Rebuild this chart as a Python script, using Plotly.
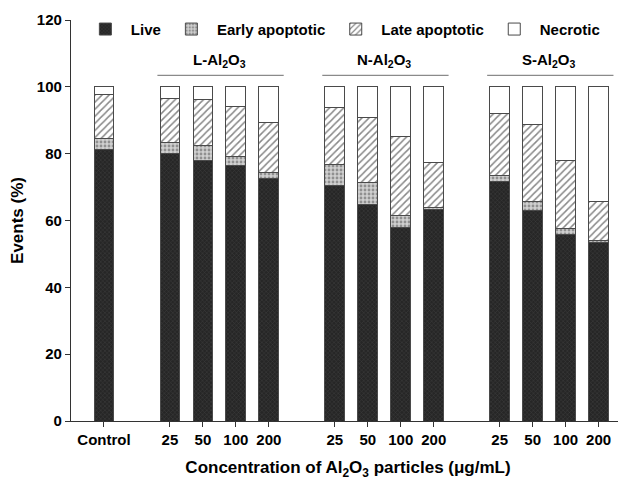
import plotly.graph_objects as go

categories = ["Control", "L-25", "L-50", "L-100", "L-200",
              "N-25", "N-50", "N-100", "N-200",
              "S-25", "S-50", "S-100", "S-200"]
tick_labels = ["Control", "25", "50", "100", "200",
               "25", "50", "100", "200",
               "25", "50", "100", "200"]
positions = [0, 2, 3, 4, 5, 7, 8, 9, 10, 12, 13, 14, 15]

live = [81.2, 80.2, 78.1, 76.6, 72.7, 70.6, 64.8, 57.9, 63.2, 71.6, 63.1, 55.9, 53.4]
early = [3.4, 3.0, 4.3, 2.5, 1.6, 6.2, 6.5, 3.5, 0.6, 1.8, 2.5, 1.7, 0.5]
late = [13.1, 13.2, 13.8, 14.9, 15.1, 16.9, 19.6, 23.6, 13.6, 18.7, 23.0, 20.3, 11.9]
necrotic = [2.3, 3.6, 3.8, 6.0, 10.6, 6.3, 9.1, 15.0, 22.6, 7.9, 11.4, 22.1, 34.2]

groups = ["L-Al<sub>2</sub>O<sub>3</sub>", "N-Al<sub>2</sub>O<sub>3</sub>", "S-Al<sub>2</sub>O<sub>3</sub>"]
group_centers = [3.5, 8.5, 13.5]

FONT = "Liberation Sans, Arial, sans-serif"
line_style = dict(color="#4a4a4a", width=1)

fig = go.Figure()
fig.add_trace(go.Bar(x=positions, y=live, name="Live", width=0.6,
                     marker=dict(color="#2a2a2a", line=line_style,
                                 pattern=dict(shape="x", bgcolor="#262626", fgcolor="#555555",
                                              size=3, solidity=0.3))))
fig.add_trace(go.Bar(x=positions, y=early, name="Early apoptotic", width=0.6,
                     marker=dict(color="#c8c8c8", line=line_style,
                                 pattern=dict(shape=".", bgcolor="#d0d0d0", fgcolor="#505050",
                                              size=4, solidity=0.4))))
fig.add_trace(go.Bar(x=positions, y=late, name="Late apoptotic", width=0.6,
                     marker=dict(color="white", line=line_style,
                                 pattern=dict(shape="/", bgcolor="white", fgcolor="#111111",
                                              size=5, solidity=0.3))))
fig.add_trace(go.Bar(x=positions, y=necrotic, name="Necrotic", width=0.6,
                     marker=dict(color="white", line=line_style)))

for g, c in zip(groups, group_centers):
    fig.add_annotation(x=c, y=107.8, text=g, showarrow=False,
                       font=dict(family=FONT, size=15, color="black", weight="bold"))
    fig.add_shape(type="line", x0=c - 1.88, x1=c + 1.95, y0=103.4, y1=103.4,
                  line=dict(color="#8a8a8a", width=1.2))

fig.update_layout(
    barmode="stack",
    width=626, height=480,
    margin=dict(l=63, r=9, t=12, b=67, autoexpand=False),
    paper_bgcolor="white", plot_bgcolor="white",
    font=dict(family=FONT, size=14, color="black", weight="bold"),
    showlegend=True,
    legend=dict(orientation="h", x=0.016, y=0.99, xanchor="left", yanchor="top",
                yref="container",
                font=dict(family=FONT, size=15, color="black", weight="bold"),
                bgcolor="rgba(0,0,0,0)", itemwidth=41, traceorder="normal"),
    xaxis=dict(range=[-1.0, 15.8], tickmode="array", tickvals=positions, ticktext=tick_labels,
               showline=True, linecolor="#333", linewidth=1.2, ticks="outside", ticklen=5,
               tickcolor="#333", showgrid=False, zeroline=False,
               tickfont=dict(family=FONT, size=15, color="black", weight="bold"),
               title=dict(text="Concentration of Al<sub>2</sub>O<sub>3</sub> particles (μg/mL)",
                          font=dict(family=FONT, size=17, color="black", weight="bold"),
                          standoff=14)),
    yaxis=dict(range=[0, 120], tickvals=[0, 20, 40, 60, 80, 100, 120],
               showline=True, linecolor="#333", linewidth=1.2, ticks="outside", ticklen=5,
               tickcolor="#333", showgrid=False, zeroline=False,
               tickfont=dict(family=FONT, size=15, color="black", weight="bold"),
               title=dict(text="Events (%)",
                          font=dict(family=FONT, size=17, color="black", weight="bold"),
                          standoff=10)),
)

fig.write_html("out.html")
